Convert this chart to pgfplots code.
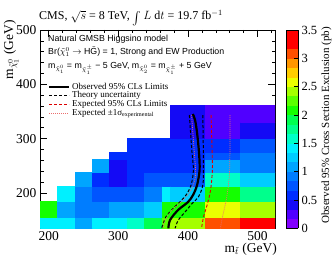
\documentclass[border=0pt]{standalone}
\usepackage{graphicx}
\usepackage{pgfplots}
\pgfplotsset{compat=1.18}
\usepgfplotslibrary{patchplots}
\usepackage{fontspec}
\setmainfont{Liberation Serif}
\setsansfont{Liberation Sans}
\pgfplotsset{/pgf/number format/assume math mode=true}
\pgfplotsset{colormap={rootpal}{
rgb255=(130,0,255) rgb255=(80,0,255) rgb255=(20,10,245) rgb255=(0,45,255) rgb255=(0,85,255)
rgb255=(0,125,255) rgb255=(0,165,255) rgb255=(0,205,255) rgb255=(0,240,255) rgb255=(0,255,200)
rgb255=(0,255,140) rgb255=(0,255,80) rgb255=(20,255,0) rgb255=(90,255,0) rgb255=(165,255,0)
rgb255=(235,255,0) rgb255=(255,205,0) rgb255=(255,150,0) rgb255=(255,80,0) rgb255=(255,0,0)
rgb255=(255,0,0)}}
\definecolor{exppink}{RGB}{235,110,110}
\definecolor{expred}{RGB}{220,0,0}
\begin{document}
\begin{tikzpicture}
\begin{axis}[
  at={(40pt,28.7pt)}, anchor=south west,
  scale only axis, width=235pt, height=198.3pt,
  xmin=187.5, xmax=525, ymin=135, ymax=500,
  xtick={200,300,400,500}, ytick={200,300,400,500},
  minor xtick={220,240,260,280,320,340,360,380,420,440,460,480,520},
  minor ytick={140,160,180,220,240,260,280,320,340,360,380,420,440,460,480},
  tick align=inside, tick pos=both,
  major tick length=7pt, minor tick length=3.5pt,
  every tick/.style={black, line width=0.6pt},
  axis line style={line width=0.8pt},
  ticklabel style={font=\fontsize{13.5}{14}\selectfont},
  colormap name=rootpal, colormap access=piecewise const,
  point meta min=0, point meta max=3.5,
  colorbar,
  colorbar style={
    at={(parent axis.north east)}, anchor=north west, xshift=2.5pt, width=12pt,
    ytick={0,0.5,1,1.5,2,2.5,3,3.5},
    ytick pos=right, yticklabel pos=right,
    tick align=inside, major tick length=4pt,
    every tick/.style={black, line width=0.6pt},
    axis line style={line width=0.6pt},
    yticklabel style={font=\fontsize{12.5}{13}\selectfont},
  },
  legend style={at={(0.034,0.735)}, anchor=north west, draw=none, fill=none,
    inner sep=0pt, outer sep=0pt, font=\fontsize{9}{10}\selectfont,
    column sep=2pt, nodes={inner sep=0pt, text height=6.5pt, text depth=2.2pt}},
  legend cell align=left,
  legend image code/.code={\draw[#1] (0pt,0pt) -- (20pt,0pt);},
]
\addplot[patch, patch type=rectangle, shader=flat, point meta=explicit, forget plot]
table[x=x, y=y, meta=c] {
x y c
187.5 135 1.45
212.5 135 1.45
212.5 155 1.45
187.5 155 1.45
187.5 155 2.0
212.5 155 2.0
212.5 185 2.0
187.5 185 2.0
212.5 135 1.45
237.5 135 1.45
237.5 155 1.45
212.5 155 1.45
212.5 155 1.1
237.5 155 1.1
237.5 185 1.1
212.5 185 1.1
212.5 185 1.35
237.5 185 1.35
237.5 212.5 1.35
212.5 212.5 1.35
237.5 135 1.1
262.5 135 1.1
262.5 155 1.1
237.5 155 1.1
237.5 155 0.95
262.5 155 0.95
262.5 185 0.95
237.5 185 0.95
237.5 185 0.9
262.5 185 0.9
262.5 212.5 0.9
237.5 212.5 0.9
237.5 212.5 1.1
262.5 212.5 1.1
262.5 237.5 1.1
237.5 237.5 1.1
262.5 135 1.45
287.5 135 1.45
287.5 155 1.45
262.5 155 1.45
262.5 155 0.95
287.5 155 0.95
287.5 185 0.95
262.5 185 0.95
262.5 185 0.75
287.5 185 0.75
287.5 212.5 0.75
262.5 212.5 0.75
262.5 212.5 0.6
287.5 212.5 0.6
287.5 237.5 0.6
262.5 237.5 0.6
262.5 237.5 1.1
287.5 237.5 1.1
287.5 262.5 1.1
262.5 262.5 1.1
287.5 135 1.45
312.5 135 1.45
312.5 155 1.45
287.5 155 1.45
287.5 155 1.07
312.5 155 1.07
312.5 185 1.07
287.5 185 1.07
287.5 185 0.75
312.5 185 0.75
312.5 212.5 0.75
287.5 212.5 0.75
287.5 212.5 0.4
312.5 212.5 0.4
312.5 237.5 0.4
287.5 237.5 0.4
287.5 237.5 0.4
312.5 237.5 0.4
312.5 262.5 0.4
287.5 262.5 0.4
287.5 262.5 0.6
312.5 262.5 0.6
312.5 275 0.6
287.5 275 0.6
312.5 135 1.65
337.5 135 1.65
337.5 155 1.65
312.5 155 1.65
312.5 155 1.1
337.5 155 1.1
337.5 185 1.1
312.5 185 1.1
312.5 185 0.75
337.5 185 0.75
337.5 212.5 0.75
312.5 212.5 0.75
312.5 212.5 0.6
337.5 212.5 0.6
337.5 237.5 0.6
312.5 237.5 0.6
312.5 237.5 0.55
337.5 237.5 0.55
337.5 262.5 0.55
312.5 262.5 0.55
312.5 262.5 0.55
337.5 262.5 0.55
337.5 275 0.55
312.5 275 0.55
312.5 275 0.6
337.5 275 0.6
337.5 300 0.6
312.5 300 0.6
337.5 135 1.95
362.5 135 1.95
362.5 155 1.95
337.5 155 1.95
337.5 155 1.25
362.5 155 1.25
362.5 185 1.25
337.5 185 1.25
337.5 185 0.9
362.5 185 0.9
362.5 212.5 0.9
337.5 212.5 0.9
337.5 212.5 0.75
362.5 212.5 0.75
362.5 237.5 0.75
337.5 237.5 0.75
337.5 237.5 0.6
362.5 237.5 0.6
362.5 262.5 0.6
337.5 262.5 0.6
337.5 262.5 0.6
362.5 262.5 0.6
362.5 275 0.6
337.5 275 0.6
337.5 275 0.6
362.5 275 0.6
362.5 300 0.6
337.5 300 0.6
362.5 135 2.3
375 135 2.3
375 155 2.3
362.5 155 2.3
362.5 155 2.0
375 155 2.0
375 185 2.0
362.5 185 2.0
362.5 185 1.35
375 185 1.35
375 212.5 1.35
362.5 212.5 1.35
362.5 212.5 0.75
375 212.5 0.75
375 237.5 0.75
362.5 237.5 0.75
362.5 237.5 0.6
375 237.5 0.6
375 262.5 0.6
362.5 262.5 0.6
362.5 262.5 0.6
375 262.5 0.6
375 275 0.6
362.5 275 0.6
362.5 275 0.6
375 275 0.6
375 300 0.6
362.5 300 0.6
375 135 2.35
425 135 2.35
425 155 2.35
375 155 2.35
375 155 2.0
425 155 2.0
425 185 2.0
375 185 2.0
375 185 1.3
425 185 1.3
425 212.5 1.3
375 212.5 1.3
375 212.5 0.75
425 212.5 0.75
425 237.5 0.75
375 237.5 0.75
375 237.5 0.6
425 237.5 0.6
425 262.5 0.6
375 262.5 0.6
375 262.5 0.6
425 262.5 0.6
425 275 0.6
375 275 0.6
375 275 0.55
425 275 0.55
425 300 0.55
375 300 0.55
375 300 0.4
425 300 0.4
425 362.5 0.4
375 362.5 0.4
425 135 3.05
475 135 3.05
475 155 3.05
425 155 3.05
425 155 2.5
475 155 2.5
475 185 2.5
425 185 2.5
425 185 2.15
475 185 2.15
475 212.5 2.15
425 212.5 2.15
425 212.5 1.5
475 212.5 1.5
475 237.5 1.5
425 237.5 1.5
425 237.5 1.07
475 237.5 1.07
475 262.5 1.07
425 262.5 1.07
425 262.5 0.8
475 262.5 0.8
475 275 0.8
425 275 0.8
425 275 0.6
475 275 0.6
475 300 0.6
425 300 0.6
425 300 0.25
475 300 0.25
475 362.5 0.25
425 362.5 0.25
475 135 3.4
525 135 3.4
525 155 3.4
475 155 3.4
475 155 2.45
525 155 2.45
525 185 2.45
475 185 2.45
475 185 1.7
525 185 1.7
525 212.5 1.7
475 212.5 1.7
475 212.5 1.3
525 212.5 1.3
525 237.5 1.3
475 237.5 1.3
475 237.5 0.95
525 237.5 0.95
525 262.5 0.95
475 262.5 0.95
475 262.5 0.85
525 262.5 0.85
525 275 0.85
475 275 0.85
475 275 0.75
525 275 0.75
525 300 0.75
475 300 0.75
475 300 0.45
525 300 0.45
525 330 0.45
475 330 0.45
475 330 0.2
525 330 0.2
525 362.5 0.2
475 362.5 0.2
};
% observed
\addplot[black, line width=2.2pt, smooth, tension=0.5] coordinates {
(406.9,345.4) (410.2,334.3) (413.1,310.4) (415.9,273.6) (416.7,242.3) (413.1,214.7)
(407.3,196.3) (400.1,183.4) (385.8,168.7) (374.3,150.3) (371.8,135)};
\addlegendentry{Observed 95\% CLs Limits}
% theory uncertainty
\addplot[black, line width=1pt, dash pattern=on 3pt off 2pt, smooth, tension=0.5] coordinates {
(402,343.5) (405.5,279.1) (407.8,242.3) (404.5,214.7) (397.3,196.3) (388.7,184)
(379,171.8) (368.5,156.4) (362.1,135)};
\addlegendentry{Theory uncertainty}
\addplot[black, line width=1pt, dash pattern=on 3pt off 2pt, smooth, tension=0.5, forget plot] coordinates {
(421.3,343.5) (422.1,273) (421.7,217.8) (414.9,192.6) (405.9,180.7) (398.3,168.7)
(386.2,150.3) (381.5,135)};
% expected
\addplot[expred, line width=0.9pt, dash pattern=on 3pt off 2pt, smooth, tension=0.5] coordinates {
(433.2,343.5) (434.6,279.1) (435.1,242.3) (432.5,205.5) (427.5,177.9) (422.4,156.4) (419.5,135)};
\addlegendentry{Expected 95\% CLs Limits}
% expected +-1 sigma
\addplot[exppink, line width=0.7pt, dash pattern=on 1pt off 1pt, smooth, tension=0.5] coordinates {
(460.5,343.5) (459.8,242.3) (455.8,193.2) (448.6,150.3) (446.8,135)};
\addlegendentry{Expected ±1σ\textsubscript{experimental}}
\addplot[exppink, line width=0.7pt, dash pattern=on 1pt off 1pt, smooth, tension=0.5, forget plot] coordinates {
(405.2,343.5) (408.8,279.1) (410.9,233.1) (404.5,205.5) (393,187.1) (377.2,168.7)
(367.1,150.3) (364.2,135)};
\end{axis}
% texts
\node[anchor=base, inner sep=0pt, font=\fontsize{12}{13}\selectfont] at (131pt,237pt)
  {CMS, $\sqrt{s}$ = 8 TeV, \raisebox{-3pt}{\scalebox{1.3}{$\int$}}\,$L$ d$t$ = 19.7 fb$^{-1}$};
\node[anchor=base west, inner sep=0pt, font=\sffamily\fontsize{8.8}{10}\selectfont] at (48pt,215.5pt)
  {Natural GMSB Higgsino model};
\node[anchor=base west, inner sep=0pt, font=\sffamily\fontsize{8.8}{10}\selectfont] at (48pt,202pt)
  {Br($\tilde{\chi}^{0}_{1}\rightarrow$ H$\tilde{\mbox{G}}$) = 1, Strong and EW Production};
\node[anchor=base west, inner sep=0pt, font=\sffamily\fontsize{8.8}{10}\selectfont] at (48pt,188.5pt)
  {m$_{\tilde{\chi}^{0}_{1}}$ = m$_{\tilde{\chi}^{\pm}_{1}}$ − 5 GeV, m$_{\tilde{\chi}^{0}_{2}}$ = m$_{\tilde{\chi}^{\pm}_{1}}$ + 5 GeV};
\node[anchor=base east, inner sep=0pt, font=\fontsize{13.5}{14}\selectfont] at (277pt,5pt)
  {m$_{\tilde{t}}$ (GeV)};
\node[anchor=base east, inner sep=0pt, rotate=90, font=\fontsize{13.5}{14}\selectfont] at (13pt,237pt)
  {m$_{\tilde{\chi}^{0}_{1}}$ (GeV)};
\node[anchor=base east, inner sep=0pt, rotate=90, font=\fontsize{11}{12}\selectfont] at (329pt,230pt)
  {Observed 95\% Cross Section Exclusion (pb)};
\pgfresetboundingbox
\path[use as bounding box] (0,0) rectangle (334pt,257pt);
\end{tikzpicture}
\end{document}
